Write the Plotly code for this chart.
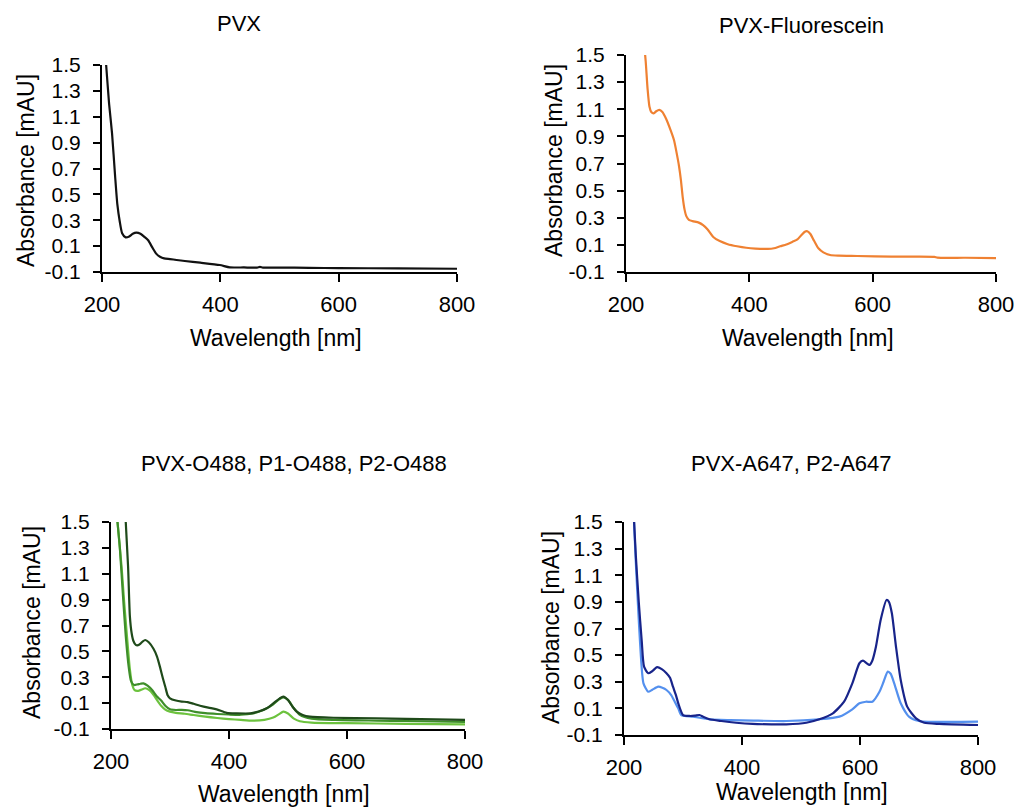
import plotly.graph_objects as go

# ---------------- data ----------------
pvx_wl = [206, 207, 212, 217, 222, 226, 230, 234, 240, 246, 252, 258, 265, 272, 278, 285, 292, 298,
          305, 315, 326, 340, 366, 399, 416, 440, 462, 467, 472, 500, 550, 600, 700, 800]
pvx_abs = [1.55, 1.5, 1.2, 0.97, 0.65, 0.42, 0.29, 0.2, 0.168, 0.175, 0.195, 0.204, 0.195, 0.17, 0.145,
           0.09, 0.04, 0.018, 0.005, 0.0, -0.007, -0.015, -0.028, -0.046, -0.064, -0.065, -0.066, -0.06,
           -0.066, -0.066, -0.068, -0.07, -0.072, -0.075]

fl_wl = [230, 232, 235, 238, 241, 245, 249, 254, 259, 265, 272, 278, 282, 286, 289, 292, 295, 298, 302,
         308, 318, 325, 332, 342, 352, 365, 380, 395, 410, 430, 440, 450, 460, 470, 478, 485, 490, 494,
         499, 505, 512, 520, 531, 545, 575, 630, 700, 705, 750, 800]
fl_abs = [1.55, 1.45, 1.25, 1.12, 1.08, 1.07, 1.085, 1.095, 1.08, 1.03, 0.95, 0.87, 0.78, 0.68, 0.58,
          0.45, 0.36, 0.31, 0.285, 0.275, 0.264, 0.245, 0.215, 0.156, 0.128, 0.105, 0.09, 0.079, 0.073,
          0.07, 0.075, 0.09, 0.103, 0.123, 0.14, 0.175, 0.197, 0.2, 0.18, 0.13, 0.075, 0.045, 0.025,
          0.02, 0.018, 0.013, 0.012, 0.006, 0.005, 0.002]

o488_pvx_wl = [225, 229, 232, 235, 238, 242, 246, 250, 254, 258, 264, 272, 278, 283, 288, 292, 296, 300,
               310, 320, 330, 340, 351, 365, 379, 396, 413, 436, 450, 464, 475, 486, 492, 500, 508, 515,
               525, 537, 577, 650, 700, 800]
o488_pvx_abs = [1.5, 1.15, 0.77, 0.64, 0.58, 0.55, 0.548, 0.56, 0.578, 0.588, 0.57, 0.52, 0.46, 0.38,
                0.29, 0.227, 0.16, 0.137, 0.12, 0.112, 0.108, 0.095, 0.08, 0.065, 0.052, 0.025, 0.021,
                0.021, 0.035, 0.06, 0.098, 0.137, 0.15, 0.124, 0.07, 0.034, 0.008, -0.005, -0.013,
                -0.017, -0.022, -0.03]

o488_p1_wl = [211, 215, 220, 225, 230, 234, 239, 245, 250, 255, 262, 270, 277, 285, 292, 300, 310, 320,
              330, 345, 360, 380, 400, 420, 440, 460, 475, 485, 492, 500, 510, 520, 540, 580, 650, 700, 800]
o488_p1_abs = [1.5, 1.3, 0.95, 0.62, 0.38, 0.27, 0.24, 0.245, 0.25, 0.253, 0.235, 0.2, 0.155, 0.12, 0.08,
               0.052, 0.047, 0.048, 0.045, 0.03, 0.022, 0.016, 0.012, 0.01, 0.02, 0.05, 0.09, 0.13, 0.145,
               0.125, 0.06, 0.01, -0.02, -0.03, -0.035, -0.038, -0.045]

o488_p2_wl = [211, 214, 218, 222, 227, 232, 236, 240, 246, 252, 258, 265, 272, 278, 285, 292, 300, 310,
              325, 340, 360, 380, 400, 420, 440, 460, 475, 485, 492, 500, 510, 520, 540, 600, 700, 800]
o488_p2_abs = [1.5, 1.35, 1.15, 0.9, 0.62, 0.36, 0.24, 0.2, 0.195, 0.205, 0.215, 0.2, 0.165, 0.124, 0.08,
               0.05, 0.034, 0.025, 0.018, 0.008, -0.005, -0.015, -0.023, -0.03, -0.036, -0.03, -0.012,
               0.015, 0.034, 0.02, -0.02, -0.04, -0.05, -0.055, -0.06, -0.065]

a647_pvx_wl = [216, 220, 225, 230, 234, 241, 248, 256, 264, 272, 278, 283, 288, 292, 300, 311, 320, 328,
               335, 345, 365, 390, 418, 450, 475, 509, 531, 554, 573, 587, 599, 605, 611, 616, 621, 627,
               635, 645, 649, 654, 661, 669, 680, 695, 709, 734, 800]
a647_pvx_abs = [1.6, 1.25, 0.9, 0.61, 0.413, 0.364, 0.38, 0.41, 0.395, 0.364, 0.33, 0.263, 0.2, 0.138,
                0.05, 0.043, 0.045, 0.05, 0.035, 0.018, 0.005, -0.008, -0.017, -0.02, -0.02, -0.008,
                0.018, 0.063, 0.15, 0.288, 0.439, 0.458, 0.44, 0.426, 0.46, 0.563, 0.764, 0.914, 0.9,
                0.814, 0.563, 0.313, 0.113, 0.025, -0.008, -0.017, -0.025]

a647_p2_wl = [216, 220, 224, 227, 233, 241, 248, 258, 265, 272, 280, 286, 292, 297, 317, 345, 380, 420,
              475, 531, 565, 587, 599, 610, 621, 633, 640, 647, 652, 658, 669, 683, 700, 800]
a647_p2_abs = [1.6, 1.2, 0.85, 0.61, 0.288, 0.225, 0.24, 0.263, 0.255, 0.238, 0.2, 0.15, 0.1, 0.05, 0.038,
               0.018, 0.012, 0.008, 0.005, 0.018, 0.038, 0.093, 0.138, 0.15, 0.15, 0.225, 0.3, 0.376,
               0.36, 0.288, 0.138, 0.038, 0.005, 0.0]

x_tick_vals = [200, 400, 600, 800]
x_tick_text = ["200", "400", "600", "800"]
y_tick_vals = [-0.1, 0.1, 0.3, 0.5, 0.7, 0.9, 1.1, 1.3, 1.5]
y_tick_text = ["-0.1", "0.1", "0.3", "0.5", "0.7", "0.9", "1.1", "1.3", "1.5"]

panel_titles = ["PVX", "PVX-Fluorescein", "PVX-O488, P1-O488, P2-O488", "PVX-A647, P2-A647"]
x_title = "Wavelength [nm]"
y_title = "Absorbance [mAU]"

# ---------------- layout ----------------
# the page body has an 8 px margin, so the figure is offset by that amount
OFF = 8
W, H = 1024 - OFF, 809 - OFF
FONT = "Liberation Sans, Arial, Helvetica, sans-serif"


def px_x(p):
    return (p - OFF) / W


def px_y(p):
    return 1 - (p - OFF) / H


# plot boxes in window pixels: left, right, top, bottom
boxes = [(102, 457, 65, 272), (626, 996, 55, 272), (111, 465, 522, 729), (624, 978, 522, 735)]
title_pos = [(239, 23), (801, 25), (294, 463), (791, 463)]
xt_pos = [(276, 338), (808, 338), (284, 794), (802, 792)]
yt_pos = [(26, 171), (554, 161), (32, 623), (551, 628)]

fig = go.Figure()

series = [
    (1, pvx_wl, pvx_abs, "#111111", "PVX"),
    (2, fl_wl, fl_abs, "#EF8132", "PVX-Fluorescein"),
    (3, o488_p2_wl, o488_p2_abs, "#6CC23E", "P2-O488"),
    (3, o488_p1_wl, o488_p1_abs, "#3E8E2A", "P1-O488"),
    (3, o488_pvx_wl, o488_pvx_abs, "#1F4A1A", "PVX-O488"),
    (4, a647_p2_wl, a647_p2_abs, "#5490EE", "P2-A647"),
    (4, a647_pvx_wl, a647_pvx_abs, "#18248A", "PVX-A647"),
]
for idx, xs, ys, col, name in series:
    sfx = "" if idx == 1 else str(idx)
    fig.add_trace(go.Scatter(x=xs, y=ys, mode="lines", name=name,
                             line=dict(color=col, width=2.2, shape="spline", smoothing=0.6),
                             xaxis="x" + sfx, yaxis="y" + sfx, showlegend=False))

annotations = []
for i, (l, r, t, b) in enumerate(boxes):
    sfx = "" if i == 0 else str(i + 1)
    common = dict(showline=True, linecolor="black", linewidth=2, ticks="outside",
                  tickcolor="black", tickwidth=2, showgrid=False, zeroline=False, automargin=False,
                  ticklabeloverflow="allow")
    fig.update_layout(**{
        "xaxis" + sfx: dict(domain=[px_x(l), px_x(r)], anchor="y" + sfx, range=[200, 800],
                            tickmode="array", tickvals=x_tick_vals, ticktext=x_tick_text,
                            ticklen=8, ticklabelstandoff=4,
                            tickfont=dict(family=FONT, color="black", size=22), **common),
        "yaxis" + sfx: dict(domain=[px_y(b), px_y(t)], anchor="x" + sfx, range=[-0.1, 1.5],
                            tickmode="array", tickvals=y_tick_vals, ticktext=y_tick_text,
                            ticklen=7, ticklabelstandoff=8,
                            tickfont=dict(family=FONT, color="black", size=21), **common),
    })
    tx, ty = title_pos[i]
    annotations.append(dict(text=panel_titles[i], x=px_x(tx), y=px_y(ty), xref="paper", yref="paper",
                            xanchor="center", yanchor="middle", showarrow=False,
                            font=dict(family=FONT, size=22, color="black")))
    ax_, ay_ = xt_pos[i]
    annotations.append(dict(text=x_title, x=px_x(ax_), y=px_y(ay_), xref="paper", yref="paper",
                            xanchor="center", yanchor="middle", showarrow=False,
                            font=dict(family=FONT, size=23, color="black")))
    bx, by = yt_pos[i]
    annotations.append(dict(text=y_title, x=px_x(bx), y=px_y(by), xref="paper", yref="paper",
                            xanchor="center", yanchor="middle", showarrow=False, textangle=-90,
                            font=dict(family=FONT, size=23, color="black")))

fig.update_layout(width=W, height=H, margin=dict(l=0, r=0, t=0, b=0, pad=0, autoexpand=False),
                  paper_bgcolor="white", plot_bgcolor="white", annotations=annotations,
                  showlegend=False)

fig.write_html("out.html")
